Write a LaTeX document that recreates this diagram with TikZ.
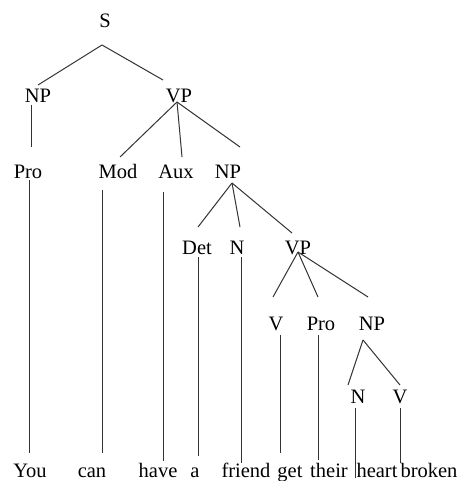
\documentclass[tikz,border=0pt]{standalone}
\usepackage{fontspec}
\setmainfont{Liberation Serif}
\begin{document}
\begin{tikzpicture}[x=1pt,y=-1pt,
  lab/.style={anchor=base,inner sep=0pt,font=\fontsize{20.5}{24}\selectfont},
  edge/.style={draw=black!80,line width=1pt}]
\useasboundingbox (0,0) rectangle (462,481);
% labels
\node[lab] (S) at (105,28) {S};
\node[lab] (NPa) at (38,103) {NP};
\node[lab] (VPa) at (179,103) {VP};
\node[lab] (Proa) at (28,178) {Pro};
\node[lab] (Mod) at (118,178) {Mod};
\node[lab] (Aux) at (176,178) {Aux};
\node[lab] (NPb) at (228,178) {NP};
\node[lab] (Det) at (197,254) {Det};
\node[lab] (Na) at (237,254) {N};
\node[lab] (VPb) at (298,254) {VP};
\node[lab] (Va) at (276,330) {V};
\node[lab] (Prob) at (321,330) {Pro};
\node[lab] (NPc) at (372,330) {NP};
\node[lab] (Nb) at (358,403) {N};
\node[lab] (Vb) at (400,403) {V};
% words
\node[lab] (w1) at (30,477) {You};
\node[lab] (w2) at (92,477) {can};
\node[lab] (w3) at (158,477) {have};
\node[lab] (w4) at (195,477) {a};
\node[lab] (w5) at (246,477) {friend};
\node[lab] (w6) at (290,477) {get};
\node[lab] (w7) at (329,477) {their};
\node[lab] (w8) at (377,477) {heart};
\node[lab] (w9) at (429,477) {broken};
% connectors
\path[edge] ([shift={(-3,17)}]S.base) -- ([shift={(0,-18)}]NPa.base);
\path[edge] ([shift={(-3,17)}]S.base) -- ([shift={(-16,-23)}]VPa.base);
\path[edge] ([shift={(-7,2)}]NPa.base) -- ([shift={(3,-31)}]Proa.base);
\path[edge] ([shift={(-2,-1)}]VPa.base) -- ([shift={(2,-21)}]Mod.base);
\path[edge] ([shift={(-2,-1)}]VPa.base) -- ([shift={(6,-21)}]Aux.base);
\path[edge] ([shift={(-2,-1)}]VPa.base) -- ([shift={(12,-31)}]NPb.base);
\path[edge] ([shift={(4,5)}]NPb.base) -- ([shift={(1,-27)}]Det.base);
\path[edge] ([shift={(4,5)}]NPb.base) -- ([shift={(3,-27)}]Na.base);
\path[edge] ([shift={(4,5)}]NPb.base) -- ([shift={(-6,-21)}]VPb.base);
\path[edge] ([shift={(0,-2)}]VPb.base) -- ([shift={(-3,-33)}]Va.base);
\path[edge] ([shift={(0,-2)}]VPb.base) -- ([shift={(-3,-33)}]Prob.base);
\path[edge] ([shift={(0,-2)}]VPb.base) -- ([shift={(-4,-33)}]NPc.base);
\path[edge] ([shift={(-9,10)}]NPc.base) -- ([shift={(-10,-18)}]Nb.base);
\path[edge] ([shift={(-9,10)}]NPc.base) -- ([shift={(0,-18)}]Vb.base);
% terminal lines
\path[edge] ([shift={(1,2)}]Proa.base) -- ([shift={(-1,-24)}]w1.base);
\path[edge] ([shift={(-16,12)}]Mod.base) -- ([shift={(10,-24)}]w2.base);
\path[edge] ([shift={(-13,14)}]Aux.base) -- ([shift={(5,-16)}]w3.base);
\path[edge] ([shift={(1,3)}]Det.base) -- ([shift={(3,-21)}]w4.base);
\path[edge] ([shift={(4,3)}]Na.base) -- ([shift={(-5,-14)}]w5.base);
\path[edge] ([shift={(4,5)}]Va.base) -- ([shift={(-10,-24)}]w6.base);
\path[edge] ([shift={(-3,5)}]Prob.base) -- ([shift={(-11,-17)}]w7.base);
\path[edge] ([shift={(-3,5)}]Nb.base) -- ([shift={(-22,1)}]w8.base);
\path[edge] ([shift={(0,5)}]Vb.base) -- ([shift={(-29,-14)}]w9.base);
\end{tikzpicture}
\end{document}
